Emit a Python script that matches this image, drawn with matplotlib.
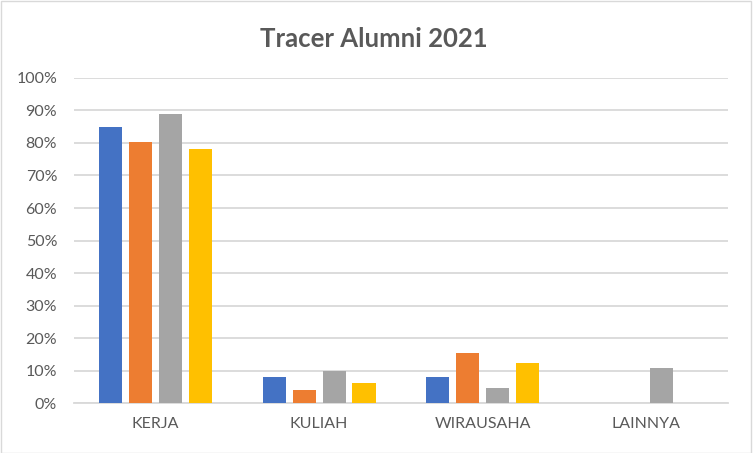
import matplotlib
matplotlib.use('Agg')
import matplotlib.pyplot as plt
from matplotlib.ticker import PercentFormatter
import numpy as np

categories = ['KERJA', 'KULIAH', 'WIRAUSAHA', 'LAINNYA']
series_1 = [0.85, 0.08, 0.08, 0.0]
series_2 = [0.803, 0.042, 0.153, 0.0]
series_3 = [0.889, 0.099, 0.048, 0.108]
series_4 = [0.782, 0.061, 0.124, 0.0]
colors = ['#4472c4', '#ed7d31', '#a5a5a5', '#ffc000']
title = 'Tracer Alumni 2021'

plt.rcParams['font.family'] = ['Lato', 'DejaVu Sans']

fig = plt.figure(figsize=(7.53, 4.53), dpi=100)
ax = fig.add_axes([0.098, 0.110, 0.869, 0.718])

x = np.arange(len(categories))
step = 0.183
width = 0.142
for i, (vals, c) in enumerate(zip([series_1, series_2, series_3, series_4], colors)):
    ax.bar(x + (i - 1.5) * step, vals, width, color=c, zorder=3)

ax.set_xlim(-0.5, len(categories) - 0.5)
ax.set_ylim(0, 1.0)
ax.set_yticks(np.arange(0, 1.01, 0.1))
ax.yaxis.set_major_formatter(PercentFormatter(1.0, decimals=0))
ax.set_xticks(x)
ax.set_xticklabels(categories)
ax.grid(axis='y', color='#d9d9d9', linewidth=1.3, zorder=0)
for s in ['top', 'right', 'left']:
    ax.spines[s].set_visible(False)
ax.spines['bottom'].set_color('#d9d9d9')
ax.spines['bottom'].set_linewidth(1.3)
ax.tick_params(axis='both', length=0, labelsize=11.5, colors='#595959')
ax.tick_params(axis='y', pad=12)
ax.tick_params(axis='x', pad=10)

fig.text(0.497, 0.915, title, ha='center', va='center', fontsize=18.5,
         color='#595959', fontweight='bold')

fig.patches.append(plt.Rectangle((0.001, 0.001), 0.997, 0.997, transform=fig.transFigure,
                                 fill=False, edgecolor='#d9d9d9', linewidth=1))

fig.savefig('out.png', dpi=100)
